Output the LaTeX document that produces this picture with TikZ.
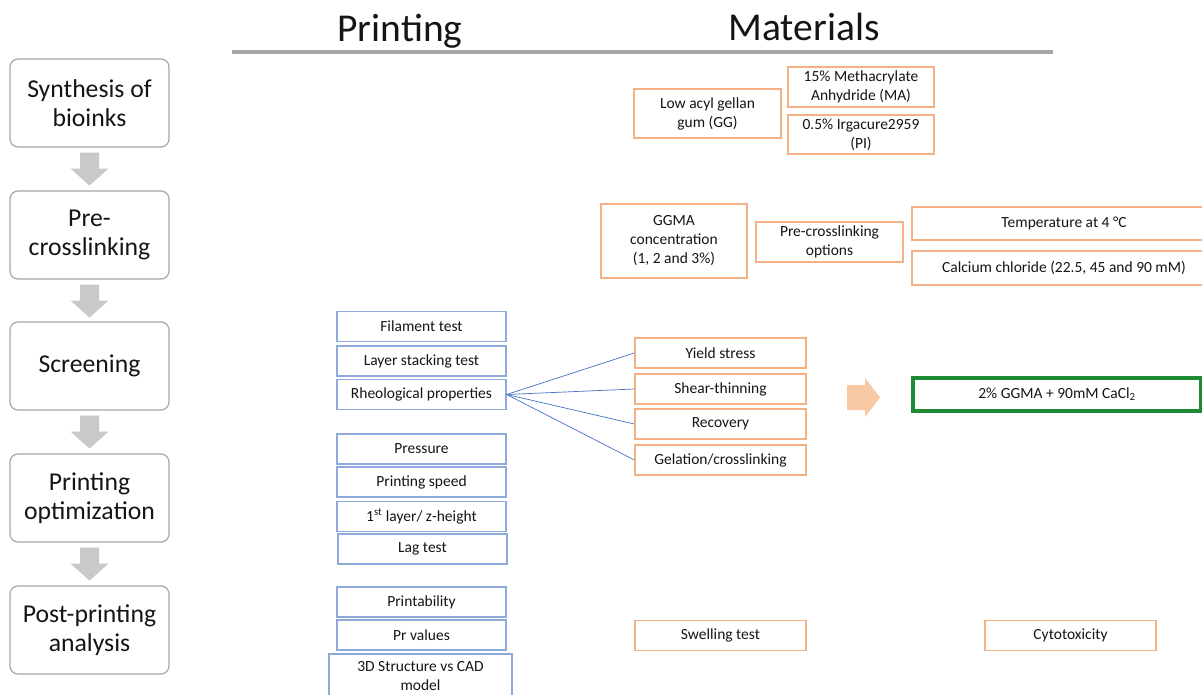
\documentclass[tikz,border=0pt]{standalone}
\usepackage{fontspec}
\setmainfont{Carlito}
\usetikzlibrary{calc}
\definecolor{obord}{HTML}{F4B183}
\definecolor{bbord}{HTML}{8EAADB}
\definecolor{sbord}{HTML}{A6A6A6}
\definecolor{blink}{HTML}{4472C4}
\definecolor{garr}{HTML}{C9C9C9}
\definecolor{parr}{HTML}{F9C9A6}
\definecolor{gbord}{HTML}{1E8A34}
\definecolor{txt}{HTML}{151515}
\newcommand\grayarrow[1]{\fill[garr] ($(#1.south)+(-9.5,5)$) -- ++(19,0) -- ++(0,16) -- ++(9.5,0) -- ++(-19,17) -- ++(-19,-17) -- ++(9.5,0) -- cycle;}
\begin{document}
\begin{tikzpicture}[x=1pt,y=-1pt,
  every node/.style={text=txt},
  stepbox/.style={draw=sbord, line width=1.2pt, rounded corners=8pt, minimum width=159, minimum height=88, align=center, font=\fontsize{25.7}{28.5}\selectfont},
  obox/.style={draw=obord, line width=1.3pt, align=center, inner sep=0pt, minimum width=171, minimum height=30, font=\fontsize{15.5}{19}\selectfont},
  bbox/.style={draw=bbord, line width=1.3pt, align=center, inner sep=0pt, minimum width=169, minimum height=30, font=\fontsize{15.5}{19}\selectfont},
  gbox/.style={draw=gbord, line width=3.5pt, align=center, inner sep=0pt, minimum width=300, minimum height=33, font=\fontsize{15.5}{19}\selectfont},
  head/.style={anchor=base, font=\fontsize{39.5}{44}\selectfont},
  link/.style={draw=blink, line width=0.7pt}]
\clip (0,0) rectangle (1202,695);
\fill[white] (0,0) rectangle (1202,695);
% headers
\node[head] (hprint) at (400,42) {Printing};
\node[head] (hmat) at (804,41) {Materials};
\coordinate (hl) at (232,52);
\coordinate (hr) at (1053,52);
\draw[sbord, line width=3.5pt] (hl) -- (hr);
% left process column
\node[stepbox] (s1) at (89.5,103) {Synthesis of\\bioinks};
\node[stepbox] (s2) at (89.5,235) {Pre-\\crosslinking};
\node[stepbox] (s3) at (89.5,366) {Screening};
\node[stepbox] (s4) at (89.5,498) {Printing\\optimization};
\node[stepbox] (s5) at (89.5,630) {Post-printing\\analysis};
\grayarrow{s1}
\grayarrow{s2}
\grayarrow{s3}
\grayarrow{s4}
% synthesis materials
\node[obox, minimum width=147, minimum height=49] (gg) at (707.5,113.5) {Low acyl gellan\\gum (GG)};
\node[obox, minimum width=146, minimum height=40] (ma) at (861,87) {15\% Methacrylate\\Anhydride (MA)};
\node[obox, minimum width=146, minimum height=39] (pi) at (861,134.5) {0.5\% Irgacure2959\\(PI)};
% pre-crosslinking
\node[obox, minimum width=146, minimum height=74] (ggma) at (674,241) {GGMA\\concentration\\(1, 2 and 3\%)};
\node[obox, minimum width=147, minimum height=40] (pco) at (829.5,242) {Pre-crosslinking\\options};
\node[obox, minimum width=304, minimum height=33] (temp) at (1064,223.5) {Temperature at 4 °C};
\node[obox, minimum width=304, minimum height=34] (cacl) at (1064,268) {Calcium chloride (22.5, 45 and 90 mM)};
% screening printing
\node[bbox] (fil) at (421.5,326.5) {Filament test};
\node[bbox] (lay) at (421.5,361) {Layer stacking test};
\node[bbox] (rheo) at (421.5,394.5) {Rheological properties};
% screening materials
\node[obox] (yield) at (720.5,353) {Yield stress};
\node[obox] (shear) at (720.5,389) {Shear-thinning};
\node[obox] (recov) at (720.5,424) {Recovery};
\node[obox] (gel) at (720.5,460) {Gelation/crosslinking};
\draw[link] (rheo.east) -- (yield.west);
\draw[link] (rheo.east) -- (shear.west);
\draw[link] (rheo.east) -- (recov.west);
\draw[link] (rheo.east) -- (gel.west);
% result arrow and box
\fill[parr] (847,385) -- (865,385) -- (865,378) -- (880,397.5) -- (865,417) -- (865,410) -- (847,410) -- cycle;
\node[gbox, minimum width=288] (res) at (1057,394.5) {2\% GGMA + 90mM CaCl\textsubscript{2}};
% printing optimization
\node[bbox] (pres) at (421.5,449) {Pressure};
\node[bbox] (speed) at (421.5,482) {Printing speed};
\node[bbox] (first) at (421.5,516.5) {1\textsuperscript{st} layer/ z-height};
\node[bbox] (lag) at (422.5,549) {Lag test};
% post-printing
\node[bbox] (printab) at (421.5,602) {Printability};
\node[bbox] (prv) at (421.5,635) {Pr values};
\node[bbox, minimum width=183, minimum height=44, font=\fontsize{15.5}{18.5}\selectfont] (cad) at (420.5,676) {3D Structure vs CAD\\model};
\node[obox] (swell) at (720.5,635.5) {Swelling test};
\node[obox] (cyto) at (1070.5,635.5) {Cytotoxicity};
\end{tikzpicture}
\end{document}
